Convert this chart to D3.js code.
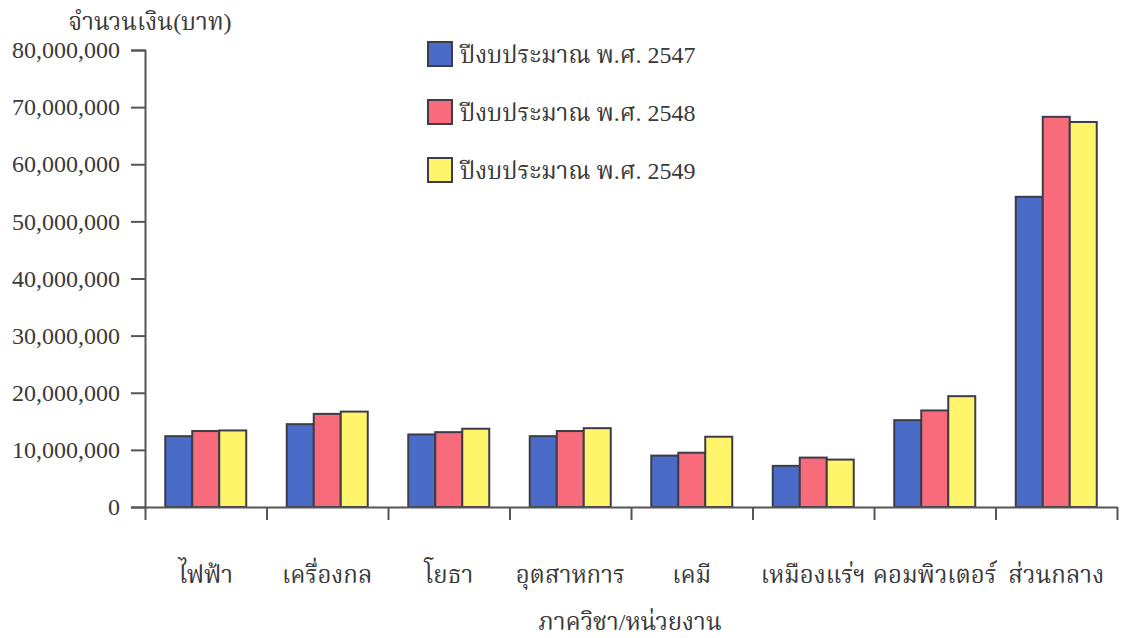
<!DOCTYPE html>
<html>
<head>
<meta charset="utf-8">
<script src="https://cdn.jsdelivr.net/npm/d3@7"></script>
<style>
  body { margin: 0; background: #fff; }
  text { font-family: "Liberation Serif", "Noto Serif Thai", "Noto Sans Thai", serif; fill: #3a3a3a; }
</style>
</head>
<body>
<div id="chart"></div>
<script>
let svgWidth = 1126;
let svgHeight = 638;

// data
const departments = ["ไฟฟ้า", "เครื่องกล", "โยธา", "อุตสาหการ", "เคมี", "เหมืองแร่ฯ", "คอมพิวเตอร์", "ส่วนกลาง"];
const seriesNames = ["ปีงบประมาณ พ.ศ. 2547", "ปีงบประมาณ พ.ศ. 2548", "ปีงบประมาณ พ.ศ. 2549"];
const budget2547 = [12400000, 14500000, 12700000, 12400000, 9000000, 7200000, 15200000, 54300000];
const budget2548 = [13300000, 16300000, 13100000, 13300000, 9500000, 8650000, 16900000, 68300000];
const budget2549 = [13400000, 16700000, 13700000, 13800000, 12300000, 8300000, 19400000, 67400000];
const yTicks = [0, 10000000, 20000000, 30000000, 40000000, 50000000, 60000000, 70000000, 80000000];
const colors = ["#4a6cc8", "#f86b7b", "#fff46a"];

let margin = { top: 50, right: 9, bottom: 131, left: 145 };
let width = svgWidth - margin.left - margin.right;
let height = svgHeight - margin.top - margin.bottom;

let svg = d3.select("#chart")
  .append("svg")
  .attr("width", svgWidth)
  .attr("height", svgHeight);

let chartGroup = svg.append("g")
  .attr("transform", `translate(${margin.left}, ${margin.top})`);

const series = [budget2547, budget2548, budget2549];
const rows = departments.map((d, i) => ({ dept: d, values: series.map(s => s[i]) }));

const xScale = d3.scaleBand()
  .domain(departments)
  .range([0, width]);

const xInner = d3.scaleBand()
  .domain([0, 1, 2])
  .range([0, 81]);

const yScale = d3.scaleLinear()
  .domain([0, 80000000])
  .range([height, 0]);

// bars
const groups = chartGroup.selectAll(".grp")
  .data(rows)
  .enter()
  .append("g")
  .attr("transform", d => `translate(${xScale(d.dept) + (xScale.bandwidth() - 81) / 2}, 0)`);

groups.selectAll("rect")
  .data(d => d.values)
  .enter()
  .append("rect")
  .attr("x", (d, i) => xInner(i))
  .attr("y", d => yScale(d))
  .attr("width", xInner.bandwidth())
  .attr("height", d => height - yScale(d))
  .attr("fill", (d, i) => colors[i])
  .attr("stroke", "#3d3d4a")
  .attr("stroke-width", 2);

// axes
const leftAxis = d3.axisLeft(yScale)
  .tickValues(yTicks)
  .tickFormat(d3.format(","))
  .tickSize(14)
  .tickPadding(11);

const yAxisG = chartGroup.append("g").call(leftAxis);
yAxisG.select(".domain").attr("stroke", "#555").attr("stroke-width", 2);
yAxisG.selectAll(".tick line").attr("stroke", "#555").attr("stroke-width", 2);
yAxisG.selectAll("text").style("font-size", "24px").attr("fill", "#3a3a3a");

// x axis with ticks at band edges
const bottomAxis = d3.axisBottom(d3.scaleLinear().domain([0, departments.length]).range([0, width]))
  .ticks(departments.length)
  .tickFormat("")
  .tickSize(13)
  .tickSizeOuter(0);

const xAxisG = chartGroup.append("g")
  .attr("transform", `translate(0, ${height})`)
  .call(bottomAxis);
xAxisG.select(".domain").attr("stroke", "#555").attr("stroke-width", 2);
xAxisG.selectAll(".tick line").attr("stroke", "#555").attr("stroke-width", 2);

// category labels
chartGroup.append("g")
  .selectAll("text")
  .data(departments)
  .enter()
  .append("text")
  .attr("x", d => xScale(d) + xScale.bandwidth() / 2)
  .attr("y", height + 76)
  .attr("text-anchor", "middle")
  .style("font-size", "24px")
  .text(d => d);

// axis titles
svg.append("text")
  .attr("x", 150)
  .attr("y", 30)
  .attr("text-anchor", "middle")
  .style("font-size", "24px")
  .text("จำนวนเงิน(บาท)");

svg.append("text")
  .attr("x", 630)
  .attr("y", 630)
  .attr("text-anchor", "middle")
  .style("font-size", "24px")
  .text("ภาควิชา/หน่วยงาน");

// legend
const legend = svg.append("g")
  .selectAll("g")
  .data(seriesNames)
  .enter()
  .append("g")
  .attr("transform", (d, i) => `translate(428, ${42 + i * 58})`);

legend.append("rect")
  .attr("width", 24)
  .attr("height", 24)
  .attr("fill", (d, i) => colors[i])
  .attr("stroke", "#3d3d4a")
  .attr("stroke-width", 2);

legend.append("text")
  .attr("x", 32)
  .attr("y", 21)
  .style("font-size", "24px")
  .text(d => d);
</script>
</body>
</html>
